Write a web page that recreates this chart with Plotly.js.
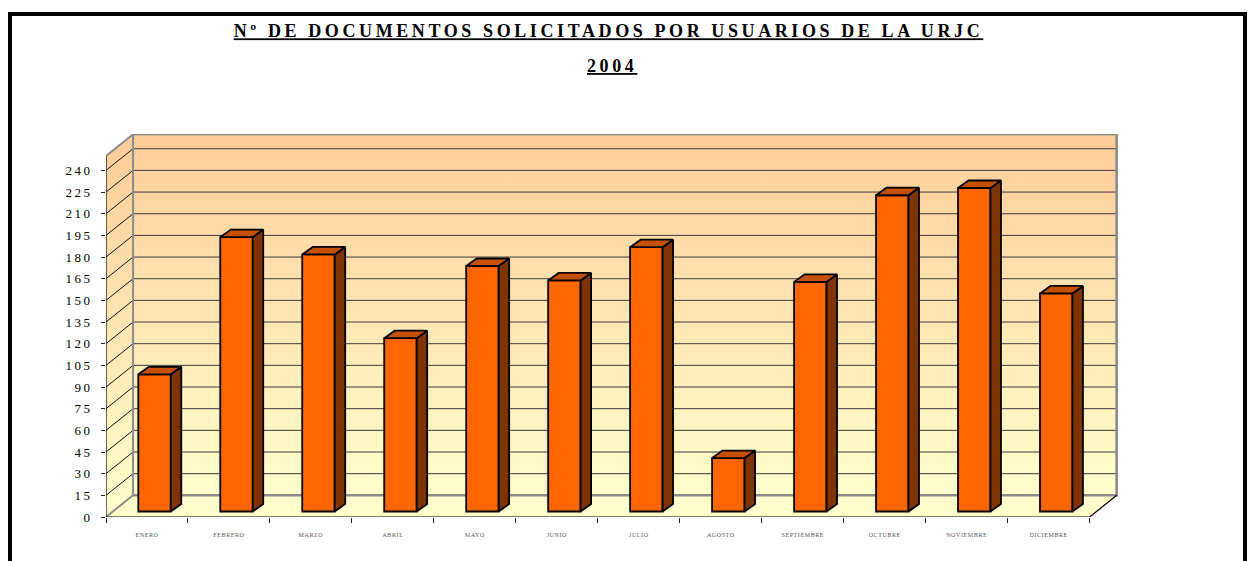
<!DOCTYPE html>
<html>
<head>
<meta charset="utf-8">
<script src="https://cdn.plot.ly/plotly-3.0.1.min.js"></script>
<style>
  html, body { margin: 0; padding: 0; background: #ffffff; }
  #chart { width: 1255px; height: 561px; }
  .gtitle { letter-spacing: 3.6px; }
  .annotation-text { letter-spacing: 3.6px; }
  g.ytick text { letter-spacing: 2.5px; }
  g.x2tick text { letter-spacing: 0.6px; }
</style>
</head>
<body>
<div id="chart"></div>
<script>
// ---------------- DATA ----------------
const months = ['ENERO', 'FEBRERO', 'MARZO', 'ABRIL', 'MAYO', 'JUNIO',
                'JULIO', 'AGOSTO', 'SEPTIEMBRE', 'OCTUBRE', 'NOVIEMBRE', 'DICIEMBRE'];
const documentos = [95, 190, 178, 120, 170, 160, 183, 37, 159, 219, 224, 151];
const yTickValues = [0, 15, 30, 45, 60, 75, 90, 105, 120, 135, 150, 165, 180, 195, 210, 225, 240];
const yAxisMax = 250;
const titleLine1 = 'Nº DE DOCUMENTOS SOLICITADOS POR USUARIOS DE LA URJC';
const titleLine2 = '2004';

// ---------------- 3D GEOMETRY (style constants) ----------------
const N = months.length;
const WALL_DX = 0.33, WALL_DY = 15;          // depth of the chart box
const BAR_OFF = 0.592, BAR_W = 0.396;        // bar centre offset / width in category units
const BAR_BASE = 3.8;                        // bar front plane sits slightly behind the front edge
const BAR_DX = 0.128, BAR_DY = 5.2;          // bar depth
const X_MAX = 12.37, Y_MAX = 265.2;

// pixel -> paper helpers for page decorations (plot area: x 106..1120, y 134..517)
const PL = 106, PW = 1014, PB = 517, PH = 383;
const px = v => (v - PL) / PW;
const py = v => (PB - v) / PH;

const traces = [];
const wallTop = yAxisMax + WALL_DY;

// floor
traces.push({
  type: 'scatter', mode: 'none', fill: 'toself', fillcolor: '#FFFFCC',
  x: [0, N, N + WALL_DX, WALL_DX, 0], y: [0, 0, WALL_DY, WALL_DY, 0],
  hoverinfo: 'skip', showlegend: false
});
// side wall
traces.push({
  type: 'scatter', mode: 'none', fill: 'toself',
  fillgradient: { type: 'vertical', colorscale: [[0, '#FFFFCC'], [1, '#FFCC99']], start: 0, stop: wallTop },
  x: [0, WALL_DX, WALL_DX, 0, 0], y: [0, WALL_DY, wallTop, yAxisMax, 0],
  hoverinfo: 'skip', showlegend: false
});
// back wall
traces.push({
  type: 'scatter', mode: 'none', fill: 'toself',
  fillgradient: { type: 'vertical', colorscale: [[0, '#FFFFCC'], [1, '#FFCC99']], start: WALL_DY, stop: wallTop },
  x: [WALL_DX, N + WALL_DX, N + WALL_DX, WALL_DX, WALL_DX], y: [WALL_DY, WALL_DY, wallTop, wallTop, WALL_DY],
  hoverinfo: 'skip', showlegend: false
});
// gridlines on back wall + diagonals on side wall
const gx = [], gy = [], dx = [], dy = [];
yTickValues.forEach(v => {
  if (v === 0) return;
  gx.push(WALL_DX, N + WALL_DX, null); gy.push(v + WALL_DY, v + WALL_DY, null);
  dx.push(0, WALL_DX, null); dy.push(v, v + WALL_DY, null);
});
traces.push({ type: 'scatter', mode: 'lines', x: gx, y: gy, line: { color: '#3a3a3a', width: 1 }, hoverinfo: 'skip', showlegend: false });
traces.push({ type: 'scatter', mode: 'lines', x: dx, y: dy, line: { color: '#111111', width: 1 }, hoverinfo: 'skip', showlegend: false });
// gray wall edges
traces.push({
  type: 'scatter', mode: 'lines', hoverinfo: 'skip', showlegend: false,
  line: { color: '#8c8c8c', width: 2 },
  x: [WALL_DX, WALL_DX, N + WALL_DX, N + WALL_DX, null, 0, WALL_DX, null, 0, WALL_DX, N + WALL_DX],
  y: [WALL_DY, wallTop, wallTop, WALL_DY, null, 0, WALL_DY, null, yAxisMax, wallTop, wallTop]
});
traces.push({
  type: 'scatter', mode: 'lines', hoverinfo: 'skip', showlegend: false,
  line: { color: '#8c8c8c', width: 2.5 },
  x: [WALL_DX, N + WALL_DX, N + WALL_DX], y: [WALL_DY, WALL_DY, wallTop]
});
// black front edges (value axis, floor front edge, floor right edge)
traces.push({
  type: 'scatter', mode: 'lines', hoverinfo: 'skip', showlegend: false,
  line: { color: '#000000', width: 1.2 },
  x: [0, 0, N, N + WALL_DX], y: [yAxisMax, 0, 0, WALL_DY]
});

// ---------------- BARS (overlay subplot, drawn on top) ----------------
const barX = documentos.map((_, i) => i + BAR_OFF);
traces.push({
  type: 'bar', xaxis: 'x2', yaxis: 'y2', name: 'Documentos',
  x: barX, y: documentos, base: BAR_BASE, width: BAR_W,
  marker: { color: '#FF6600', line: { color: '#000000', width: 1.8 } },
  hovertemplate: '%{text}: %{y}<extra></extra>', text: months, textposition: 'none',
  showlegend: false
});
const sx = [], sy = [], tx = [], ty = [];
documentos.forEach((v, i) => {
  const x0 = barX[i] - BAR_W / 2, x1 = barX[i] + BAR_W / 2;
  const top = BAR_BASE + v;
  sx.push(x1, x1 + BAR_DX, x1 + BAR_DX, x1, x1, null);
  sy.push(BAR_BASE, BAR_BASE + BAR_DY, top + BAR_DY, top, BAR_BASE, null);
  tx.push(x0, x0 + BAR_DX, x1 + BAR_DX, x1, x0, null);
  ty.push(top, top + BAR_DY, top + BAR_DY, top, top, null);
});
traces.push({
  type: 'scatter', mode: 'lines', xaxis: 'x2', yaxis: 'y2', fill: 'toself', fillcolor: '#7F3300',
  x: sx, y: sy, line: { color: '#000000', width: 1.8 }, hoverinfo: 'skip', showlegend: false
});
traces.push({
  type: 'scatter', mode: 'lines', xaxis: 'x2', yaxis: 'y2', fill: 'toself', fillcolor: '#C45000',
  x: tx, y: ty, line: { color: '#000000', width: 1.8 }, hoverinfo: 'skip', showlegend: false
});

const boundaries = months.map((_, i) => i).concat([N]);
const centers = months.map((_, i) => i + 0.5);

const layout = {
  width: 1255, height: 561,
  margin: { l: PL, r: 1255 - PL - PW, t: PB - PH, b: 561 - PB, pad: 0 },
  paper_bgcolor: '#ffffff', plot_bgcolor: 'rgba(0,0,0,0)',
  showlegend: false, bargap: 0,
  title: {
    text: '<u>' + titleLine1 + '</u>',
    x: 608.5 / 1255, xref: 'container', xanchor: 'center',
    y: 1 - 31 / 561, yref: 'container', yanchor: 'middle',
    font: { family: 'Liberation Serif, Times New Roman, serif', size: 18, color: '#000000', weight: 'bold' }
  },
  annotations: [{
    text: '<u>' + titleLine2 + '</u>', showarrow: false,
    xref: 'paper', yref: 'paper', x: px(612), y: py(66), xanchor: 'center', yanchor: 'middle',
    font: { family: 'Liberation Serif, Times New Roman, serif', size: 18, color: '#000000', weight: 'bold' }
  }],
  xaxis: {
    range: [0, X_MAX], fixedrange: true, showgrid: false, zeroline: false, showline: false,
    tickmode: 'array', tickvals: boundaries, ticks: 'outside', ticklen: 5, tickwidth: 1, tickcolor: '#222222',
    showticklabels: false
  },
  yaxis: {
    range: [0, Y_MAX], fixedrange: true, showgrid: false, zeroline: false, showline: false,
    tickmode: 'array', tickvals: yTickValues, ticktext: yTickValues.map(String),
    ticks: 'outside', ticklen: 4, tickwidth: 1, tickcolor: '#222222', ticklabelstandoff: 6,
    tickfont: { family: 'Liberation Serif, Times New Roman, serif', size: 13, color: '#000000' }
  },
  xaxis2: {
    overlaying: 'x', anchor: 'y2', range: [0, X_MAX], fixedrange: true,
    showgrid: false, zeroline: false, showline: false,
    tickmode: 'array', tickvals: centers, ticktext: months,
    ticks: 'outside', ticklen: 12, tickcolor: 'rgba(0,0,0,0)',
    tickfont: { family: 'Liberation Serif, Times New Roman, serif', size: 6, color: '#555555' }
  },
  yaxis2: { overlaying: 'y', anchor: 'x2', range: [0, Y_MAX], fixedrange: true, visible: false },
  shapes: [{
    type: 'rect', xref: 'paper', yref: 'paper', layer: 'above',
    x0: px(10), x1: px(1245), y0: py(14), y1: py(580),
    line: { color: '#000000', width: 4 }, fillcolor: 'rgba(0,0,0,0)'
  }]
};

Plotly.newPlot('chart', traces, layout, { displayModeBar: false, staticPlot: true });
</script>
</body>
</html>
